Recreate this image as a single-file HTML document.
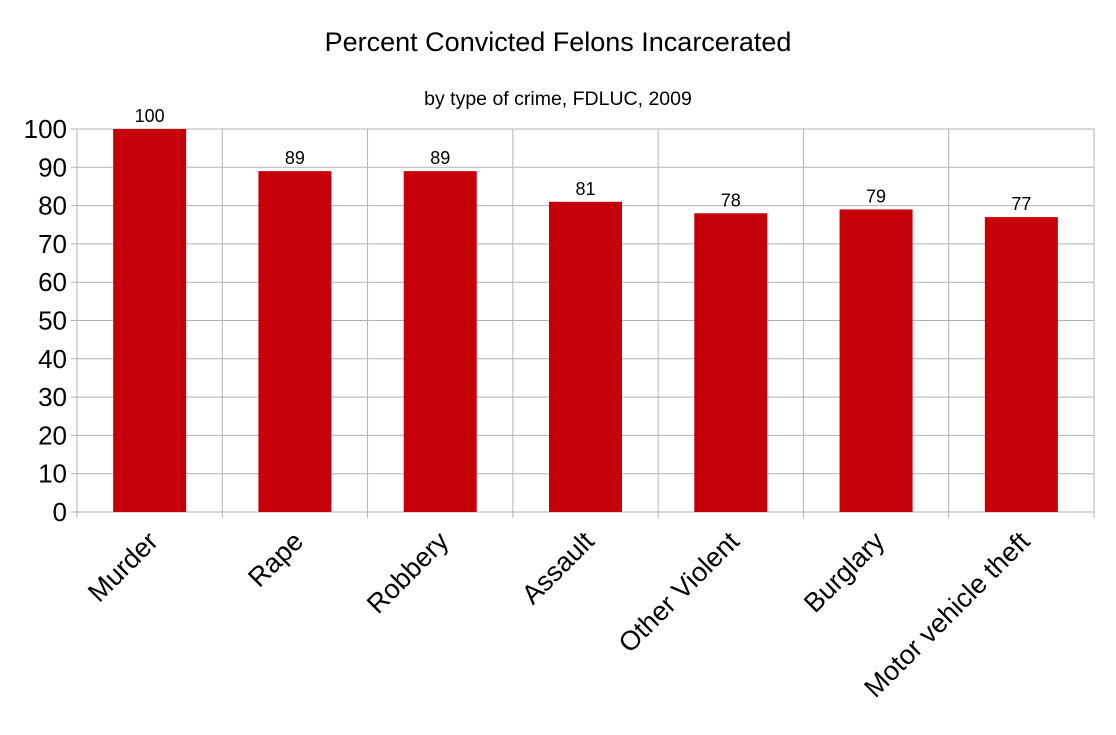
<!DOCTYPE html>
<html><head><meta charset="utf-8"><style>
body{margin:0;background:#fff}
svg text{font-family:"Liberation Sans",sans-serif}
</style></head><body>
<svg id="chart" width="1116" height="730">
<text x="558" y="51" text-anchor="middle" font-size="27">Percent Convicted Felons Incarcerated</text>
<text x="558" y="105" text-anchor="middle" font-size="19.5">by type of crime, FDLUC, 2009</text>
<g id="grid"></g><g id="bars"></g><g id="labels"></g>
</svg>
<script>
const categories=["Murder","Rape","Robbery","Assault","Other Violent","Burglary","Motor vehicle theft"];
const values=[100,89,89,81,78,79,77];
const yTicks=[0,10,20,30,40,50,60,70,80,90,100];
const L=77,R=1094,T=129,B=512,yMax=100;
const ns="http://www.w3.org/2000/svg";
const cw=(R-L)/categories.length;
function y(v){return B-(v/yMax)*(B-T);}
function x(i){return L+i*cw;}
function mk(tag,attrs,parent,txt){const e=document.createElementNS(ns,tag);for(const k in attrs)e.setAttribute(k,attrs[k]);if(txt!==undefined)e.textContent=txt;parent.appendChild(e);return e;}
const g=document.getElementById('grid'),gb=document.getElementById('bars'),gl=document.getElementById('labels');
yTicks.forEach(t=>{
  const ln=mk('line',{x1:L-6,x2:R,y1:y(t),y2:y(t),stroke:'#b3b3b3','stroke-width':1},g);
  
  
  const tx=mk('text',{x:L-10,y:y(t)+9,'text-anchor':'end','font-size':26},g,String(t));
  
  
});
for(let i=0;i<=categories.length;i++){
  const ln=mk('line',{x1:x(i),x2:x(i),y1:T,y2:B+6,stroke:'#b3b3b3','stroke-width':1},g);
  
  
}
const bw=73;
categories.forEach((c,i)=>{
  const cx=x(i)+cw/2;
  const r=mk('rect',{x:cx-bw/2,y:y(values[i]),width:bw,height:B-y(values[i]),fill:'#c5000b'},gb);
  
  
  const v=mk('text',{x:cx,y:y(values[i])-7,'text-anchor':'middle','font-size':18},gl,String(values[i]));
  
  
  const t=mk('text',{x:cx+10,y:B+31,'text-anchor':'end','font-size':27,transform:`rotate(-45 ${cx+10} ${B+31})`},gl,c);
  
  
});
</script>
</body></html>
